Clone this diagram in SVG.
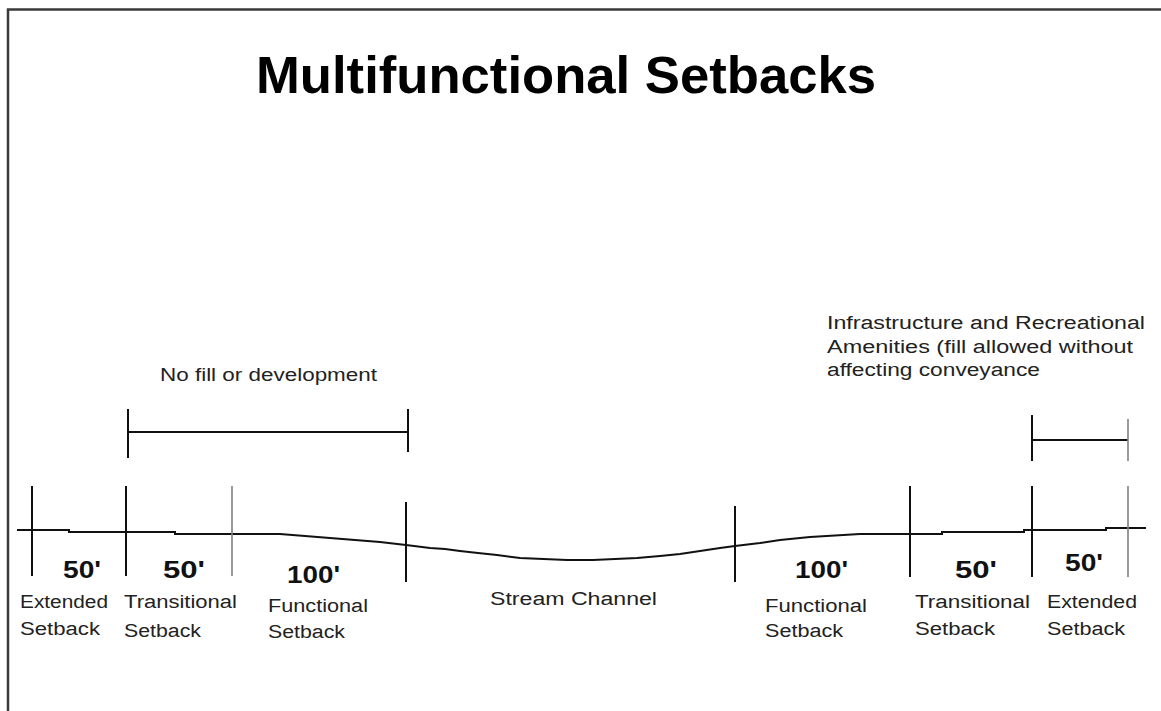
<svg xmlns="http://www.w3.org/2000/svg" width="1161" height="711" viewBox="0 0 1161 711">
<style>
.frame{fill:none;stroke:#3a3a3a;stroke-width:2.5}
.ln{fill:none;stroke:#111;stroke-width:2}
.lt{fill:none;stroke:#808080;stroke-width:1.6}
.title{font-family:"Liberation Sans",Arial,sans-serif;font-weight:bold;font-size:52.5px;fill:#000}
.dim{font-family:"Liberation Sans",Arial,sans-serif;font-weight:bold;font-size:24px;fill:#111}
.lbl{font-family:"Liberation Sans",Arial,sans-serif;font-size:18px;fill:#222}
</style>
<rect width="1161" height="711" fill="#fff"/>
<path class="frame" d="M8,711 V9.5 H1161"/>
<g id="title"><text class="title" x="256" y="92.5" textLength="620" lengthAdjust="spacingAndGlyphs">Multifunctional Setbacks</text></g>

<g id="connectors">
  <polyline class="ln" points="17,530 69,530 69,532 175,532 175,534 280,534 330,538 380,542 406,545 430,548 445,549 460,551 478,553 497,555 520,558 567,560 593,560 637,558 660,556 680,554 700,551 720,548 735,546 760,543 780,540 810,537 860,534 942,534 942,532 1024,532 1024,530 1106,530 1106,528 1146,528"/>
  <line class="ln" x1="32" y1="486" x2="32" y2="576"/>
  <line class="ln" x1="126" y1="486" x2="126" y2="576"/>
  <line class="lt" x1="232" y1="486" x2="232" y2="576"/>
  <line class="ln" x1="406" y1="502" x2="406" y2="582"/>
  <line class="ln" x1="735" y1="506" x2="735" y2="582"/>
  <line class="ln" x1="910" y1="486" x2="910" y2="577"/>
  <line class="ln" x1="1032" y1="486" x2="1032" y2="577"/>
  <line class="lt" x1="1128" y1="486" x2="1128" y2="577"/>
  <line class="ln" x1="128" y1="432" x2="408" y2="432"/>
  <line class="ln" x1="128" y1="409" x2="128" y2="458"/>
  <line class="ln" x1="408" y1="409" x2="408" y2="452"/>
  <line class="ln" x1="1032" y1="440" x2="1128" y2="440"/>
  <line class="ln" x1="1032" y1="415" x2="1032" y2="461"/>
  <line class="lt" x1="1128" y1="419" x2="1128" y2="461"/>
</g>

<g id="no-fill"><text class="lbl" x="160" y="381" textLength="217" lengthAdjust="spacingAndGlyphs">No fill or development</text></g>
<g id="infrastructure">
  <text class="lbl" x="827" y="329" textLength="318" lengthAdjust="spacingAndGlyphs">Infrastructure and Recreational</text>
  <text class="lbl" x="827" y="353" textLength="306" lengthAdjust="spacingAndGlyphs">Amenities (fill allowed without</text>
  <text class="lbl" x="827" y="376" textLength="213" lengthAdjust="spacingAndGlyphs">affecting conveyance</text>
</g>

<g id="extended-left">
  <text class="dim" x="63" y="578" textLength="38" lengthAdjust="spacingAndGlyphs">50'</text>
  <text class="lbl" x="20" y="608" textLength="88" lengthAdjust="spacingAndGlyphs">Extended</text>
  <text class="lbl" x="20" y="635" textLength="80" lengthAdjust="spacingAndGlyphs">Setback</text>
</g>
<g id="transitional-left">
  <text class="dim" x="163" y="578" textLength="42" lengthAdjust="spacingAndGlyphs">50'</text>
  <text class="lbl" x="124" y="608" textLength="113" lengthAdjust="spacingAndGlyphs">Transitional</text>
  <text class="lbl" x="124" y="637" textLength="77" lengthAdjust="spacingAndGlyphs">Setback</text>
</g>
<g id="functional-left">
  <text class="dim" x="287" y="583" textLength="53" lengthAdjust="spacingAndGlyphs">100'</text>
  <text class="lbl" x="268" y="612" textLength="100" lengthAdjust="spacingAndGlyphs">Functional</text>
  <text class="lbl" x="268" y="638" textLength="77" lengthAdjust="spacingAndGlyphs">Setback</text>
</g>
<g id="stream-channel">
  <text class="lbl" x="490" y="605" textLength="167" lengthAdjust="spacingAndGlyphs">Stream Channel</text>
</g>
<g id="functional-right">
  <text class="dim" x="795" y="578" textLength="53" lengthAdjust="spacingAndGlyphs">100'</text>
  <text class="lbl" x="765" y="612" textLength="102" lengthAdjust="spacingAndGlyphs">Functional</text>
  <text class="lbl" x="765" y="637" textLength="78" lengthAdjust="spacingAndGlyphs">Setback</text>
</g>
<g id="transitional-right">
  <text class="dim" x="955" y="578" textLength="42" lengthAdjust="spacingAndGlyphs">50'</text>
  <text class="lbl" x="915" y="608" textLength="115" lengthAdjust="spacingAndGlyphs">Transitional</text>
  <text class="lbl" x="915" y="635" textLength="80" lengthAdjust="spacingAndGlyphs">Setback</text>
</g>
<g id="extended-right">
  <text class="dim" x="1065" y="571" textLength="38" lengthAdjust="spacingAndGlyphs">50'</text>
  <text class="lbl" x="1047" y="608" textLength="90" lengthAdjust="spacingAndGlyphs">Extended</text>
  <text class="lbl" x="1047" y="635" textLength="78" lengthAdjust="spacingAndGlyphs">Setback</text>
</g>
</svg>
